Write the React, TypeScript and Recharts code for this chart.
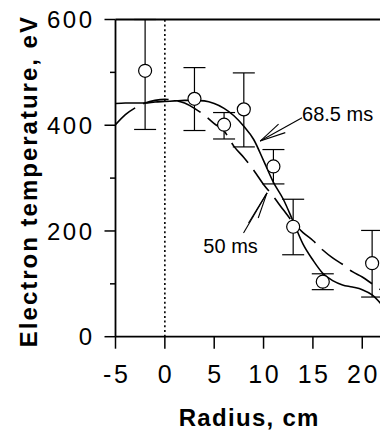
import React from "react";
import {
  ComposedChart,
  Line,
  Scatter,
  ErrorBar,
  XAxis,
  YAxis,
  ReferenceLine,
  ReferenceDot,
} from "recharts";

// fitted profiles, sampled every cm
const radius = [-5, -4, -3, -2, -1, 0, 1, 2, 3, 4, 5, 6, 7, 8, 9, 10, 11, 12, 13, 14, 15, 16, 17, 18, 19, 20, 21, 22];
const te68 = [441, 442, 442, 442, 444, 445, 446, 447, 447, 446, 441, 432, 418, 398, 373, 333, 292, 260, 218, 175, 145, 120, 106, 98, 94, 89, 79, 60];
const te50 = [401, 420, 433, 442, 447, 449, 447, 442, 432, 419, 403, 389, 360, 339, 315, 288, 265, 240, 216, 197, 182, 164, 149, 137, 123, 113, 100, 87];

// measured points with error bars
const pointRadius = [-2, 3, 6, 8, 11, 13, 16, 21];
const pointTe = [503, 450, 401, 430, 322, 208, 104, 139];
const errLow = [111, 60, 27, 71, 33, 53, 15, 64];
const errHigh = [97, 59, 23, 69, 32, 52, 15, 62];

const xTicks = [-5, 0, 5, 10, 15, 20];
const yTicks = [0, 100, 200, 300, 400, 500, 600];

// annotation arrows (data units): tail, tip, two barbs
const arrow68 = { tail: [13.9, 414], tip: [9.66, 370], barbs: [[11.52, 402], [12.2, 386]] };
const arrow50 = { tail: [7.97, 196], tip: [10.35, 272], barbs: [[8.48, 215], [9.46, 224.5]] };

const lineData = radius.map((x, i) => ({ x, t68: te68[i], t50: te50[i] }));
const points = pointRadius.map((x, i) => ({ x, te: pointTe[i], err: [errLow[i], errHigh[i]] }));

const FONT = '"Liberation Sans", Arial, Helvetica, sans-serif';

function YTick(props: any) {
  const { x, y, payload } = props;
  const major = payload.value % 200 === 0;
  return (
    <g>
      <line x1={x - (major ? 11 : 5.5)} x2={x} y1={y} y2={y} stroke="#000" strokeWidth={1.5} />
      {major && (
        <text x={x - 21} y={y} dy="0.36em" textAnchor="end" fontSize={24} letterSpacing={2.5} fill="#000" fontFamily={FONT}>
          {payload.value}
        </text>
      )}
    </g>
  );
}

function XTick(props: any) {
  const { x, y, payload } = props;
  return (
    <text x={x + 1.2} y={y} dy={34.6} textAnchor="middle" fontSize={25} letterSpacing={2.5} fill="#000" fontFamily={FONT}>
      {payload.value}
    </text>
  );
}

function Arrow({ a }: { a: typeof arrow68 }) {
  const tip = { x: a.tip[0], y: a.tip[1] };
  return (
    <>
      <ReferenceLine segment={[{ x: a.tail[0], y: a.tail[1] }, tip]} stroke="#000" strokeWidth={1.1} ifOverflow="visible" />
      {a.barbs.map((b, i) => (
        <ReferenceLine key={i} segment={[{ x: b[0], y: b[1] }, tip]} stroke="#000" strokeWidth={1.1} ifOverflow="visible" />
      ))}
    </>
  );
}

const annotationLabel = (text: string) => (props: any) => {
  const vb = props.viewBox;
  return (
    <text x={vb.x} y={vb.y} textAnchor="start" fontSize={20} fill="#000" fontFamily={FONT}>
      {text}
    </text>
  );
};

export default function App() {
  return (
    <div style={{ position: "absolute", left: 0, top: 0, width: 380, height: 432, overflow: "hidden", background: "#fff" }}>
      <ComposedChart
        width={382}
        height={432}
        data={lineData}
        margin={{ top: 19.5, right: 0, bottom: 94.3, left: 114.5 }}
        style={{ fontFamily: FONT }}
      >
        <XAxis
          type="number"
          dataKey="x"
          domain={[-5, 22]}
          ticks={xTicks}
          allowDataOverflow
          height={1}
          tickSize={12}
          tickMargin={0}
          axisLine={{ stroke: "#000", strokeWidth: 1.8 }}
          tickLine={{ stroke: "#000", strokeWidth: 1.5 }}
          tick={<XTick />}
          label={(p: any) => (
            <text
              x={p.viewBox.x + p.viewBox.width / 2 + 0.5}
              y={p.viewBox.y + 89.5}
              textAnchor="middle"
              fontSize={24}
              fontWeight="bold"
              letterSpacing={1.3}
              fill="#000"
              fontFamily={FONT}
            >
              Radius, cm
            </text>
          )}
        />
        <YAxis
          type="number"
          domain={[0, 600]}
          ticks={yTicks}
          allowDataOverflow
          width={1}
          tickSize={0}
          tickMargin={0}
          tickLine={false}
          axisLine={{ stroke: "#000", strokeWidth: 1.8 }}
          tick={<YTick />}
          label={(p: any) => {
            const cx = p.viewBox.x + p.viewBox.width - 78.5;
            const cy = p.viewBox.y + p.viewBox.height / 2 + 3;
            return (
              <text
                x={cx}
                y={cy}
                transform={`rotate(-90, ${cx}, ${cy})`}
                textAnchor="middle"
                fontSize={24}
                fontWeight="bold"
                letterSpacing={2}
                fill="#000"
                fontFamily={FONT}
              >
                Electron temperature, eV
              </text>
            );
          }}
        />
        <ReferenceLine y={600} stroke="#000" strokeWidth={1.8} />
        <ReferenceLine x={0} stroke="#000" strokeWidth={1.6} strokeDasharray="2 2.7" />
        <Line
          dataKey="t50"
          type="monotone"
          stroke="#000"
          strokeWidth={1.6}
          strokeDasharray="26 9"
          dot={false}
          activeDot={false}
          isAnimationActive={false}
        />
        <Line
          dataKey="t68"
          type="monotone"
          stroke="#000"
          strokeWidth={1.6}
          dot={false}
          activeDot={false}
          isAnimationActive={false}
        />
        <Scatter
          data={points}
          dataKey="te"
          isAnimationActive={false}
          shape={(p: any) => (
            <circle cx={p.cx} cy={p.cy} r={6.5} fill="#fff" stroke="#000" strokeWidth={1.2} />
          )}
        >
          <ErrorBar dataKey="err" direction="y" width={11} stroke="#000" strokeWidth={1.2} />
        </Scatter>
        {Arrow({ a: arrow68 })}
        {Arrow({ a: arrow50 })}
        <ReferenceDot x={13.9} y={408} r={0} fill="none" stroke="none" ifOverflow="visible" label={annotationLabel("68.5 ms")} />
        <ReferenceDot x={3.9} y={159} r={0} fill="none" stroke="none" ifOverflow="visible" label={annotationLabel("50 ms")} />
      </ComposedChart>
    </div>
  );
}
